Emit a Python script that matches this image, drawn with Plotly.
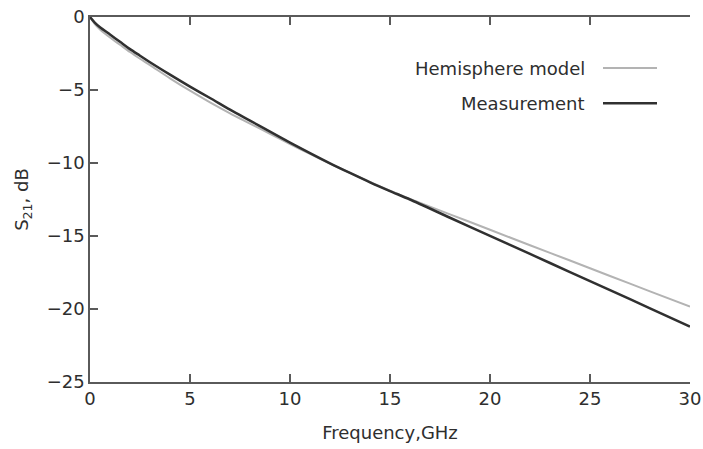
import plotly.graph_objects as go

freq = [0, 0.25, 0.5, 1, 1.5, 2, 2.5, 3, 4, 5, 6, 7, 8, 9, 10, 11, 12, 13, 14, 15,
        16, 18, 20, 22, 24, 26, 28, 30]
measurement = [0, -0.4, -0.7, -1.2, -1.7, -2.2, -2.65, -3.1, -3.95, -4.77, -5.55, -6.35, -7.1, -7.85,
               -8.6, -9.32, -10.02, -10.68, -11.32, -11.92, -12.5, -13.75, -14.99, -16.23, -17.47,
               -18.71, -19.95, -21.2]
hemisphere = [0, -0.5, -0.85, -1.4, -1.9, -2.4, -2.86, -3.3, -4.2, -5.05, -5.85, -6.6, -7.3, -8.0,
              -8.7, -9.38, -10.04, -10.68, -11.3, -11.9, -12.46, -13.52, -14.57, -15.63, -16.68,
              -17.74, -18.79, -19.84]
legend_names = ["Hemisphere model", "Measurement"]
x_ticks = [0, 5, 10, 15, 20, 25, 30]
y_ticks = [0, -5, -10, -15, -20, -25]

light = "#b3b3b3"
dark = "#303030"
axis_col = "#5a5a5a"
text_col = "#2e2e2e"
font = "DejaVu Sans, Liberation Sans, Arial, sans-serif"
fsize = 18

fig = go.Figure()
fig.add_trace(go.Scatter(x=freq, y=hemisphere, mode="lines",
                         line=dict(color=light, width=2, shape="spline", smoothing=0.8),
                         name=legend_names[0], showlegend=False))
fig.add_trace(go.Scatter(x=freq, y=measurement, mode="lines",
                         line=dict(color=dark, width=2.5, shape="spline", smoothing=0.8),
                         name=legend_names[1], showlegend=False))

axis_common = dict(showgrid=False, zeroline=False, showline=True, linecolor=axis_col, linewidth=1.5,
                   ticks="inside", ticklen=8, tickwidth=1.5, tickcolor=axis_col, automargin=False,
                   tickfont=dict(family=font, size=fsize, color=text_col))
fig.update_xaxes(range=[0, 30], tickvals=x_ticks, ticktext=[str(v) for v in x_ticks], mirror="ticks",
                 title=dict(text="Frequency,GHz", font=dict(family=font, size=fsize, color=text_col), standoff=18),
                 **axis_common)
fig.update_yaxes(range=[-25, 0], tickvals=y_ticks, ticktext=[str(v).replace("-", "\u2212") for v in y_ticks],
                 mirror=False,
                 title=dict(text="S<sub>21</sub>, dB", font=dict(family=font, size=fsize, color=text_col), standoff=13),
                 **axis_common)

# manual legend (text left of line sample)
legend_rows = [(legend_names[0], light, 2, 0.860), (legend_names[1], dark, 2.5, 0.764)]
for name, col, w, yy in legend_rows:
    fig.add_annotation(xref="paper", yref="paper", x=0.828, y=yy, text=name, showarrow=False,
                       xanchor="right", yanchor="middle", font=dict(family=font, size=fsize, color=text_col))
    fig.add_shape(type="line", xref="paper", yref="paper", x0=0.855, x1=0.945, y0=yy, y1=yy,
                  line=dict(color=col, width=w))

fig.update_layout(width=703, height=449, margin=dict(l=90, r=13, t=17, b=67),
                  plot_bgcolor="white", paper_bgcolor="white")
fig.write_html("out.html")
